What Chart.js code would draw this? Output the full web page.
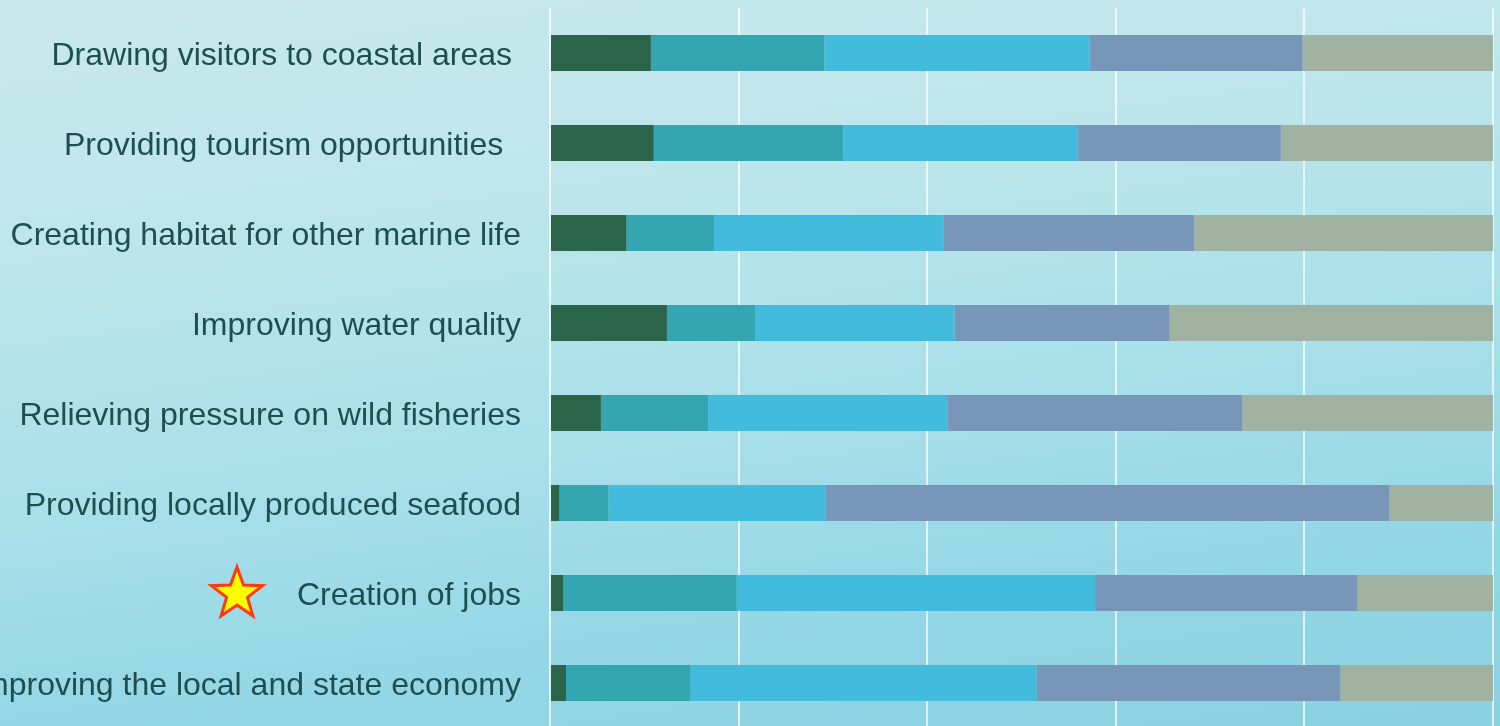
<!DOCTYPE html>
<html>
<head>
<meta charset="utf-8">
<script src="https://cdn.jsdelivr.net/npm/chart.js@4/dist/chart.umd.min.js"></script>
<style>
  html, body { margin: 0; padding: 0; overflow: hidden; width: 1500px; height: 726px; }
  body {
    background: linear-gradient(172deg, #c9e8ec 0%, #bfe6eb 25%, #a9e0ea 55%, #93d6e5 80%, #8ad1e1 100%);
  }
  #wrap { position: absolute; left: 0; top: 0; width: 1500px; height: 728px; }
</style>
</head>
<body>
<div id="wrap"><canvas id="c"></canvas></div>
<script>
const categories = [
  "Drawing visitors to coastal areas ",
  "Providing tourism opportunities  ",
  "Creating habitat for other marine life",
  "Improving water quality",
  "Relieving pressure on wild fisheries",
  "Providing locally produced seafood",
  "Creation of jobs",
  "Improving the local and state economy"
];
const series1 = [10.7, 11.0, 8.1, 12.4, 5.4, 1.0, 1.4, 1.7];
const series2 = [18.4, 20.1, 9.3, 9.4, 11.4, 5.2, 18.4, 13.2];
const series3 = [28.1, 24.9, 24.3, 21.1, 25.4, 23.0, 38.0, 36.7];
const series4 = [22.6, 21.5, 26.6, 22.8, 31.2, 59.8, 27.8, 32.2];
const series5 = [20.3, 22.6, 31.8, 34.3, 26.7, 11.0, 14.5, 16.3];
const xTicks = [0, 20, 40, 60, 80, 100];
const colors = ["#2a6449", "#34a6b1", "#42bbdd", "#7897b8", "#a0b3a3"];
const starCategory = "Creation of jobs";

const labelShiftPlugin = {
  id: 'labelShift',
  beforeDraw(chart) {
    const s = chart.scales.y;
    if (!s || s.__shifted || typeof s._computeLabelItems !== 'function') return;
    const orig = s._computeLabelItems.bind(s);
    s._computeLabelItems = function (ca) {
      const items = orig(ca);
      items.forEach(it => {
        if (it.options && it.options.translation) {
          it.options.translation = [it.options.translation[0], it.options.translation[1] + 3];
        }
      });
      return items;
    };
    s._labelItems = null;
    s.__shifted = true;
  }
};

const starPlugin = {
  id: 'starMark',
  afterDraw(chart) {
    const ctx = chart.ctx;
    const ys = chart.scales.y;
    const idx = categories.indexOf(starCategory);
    const cy = ys.getPixelForValue(idx) - 1;
    const cx = chart.chartArea.left - 313;
    const R = 27, r = 11;
    ctx.save();
    ctx.beginPath();
    for (let i = 0; i < 10; i++) {
      const ang = -Math.PI / 2 + i * Math.PI / 5;
      const rad = i % 2 === 0 ? R : r;
      const px = cx + rad * Math.cos(ang);
      const py = cy + 2 + rad * Math.sin(ang);
      if (i === 0) ctx.moveTo(px, py); else ctx.lineTo(px, py);
    }
    ctx.closePath();
    ctx.fillStyle = "#ffff00";
    ctx.fill();
    ctx.lineWidth = 3;
    ctx.strokeStyle = "#ff3a10";
    ctx.lineJoin = "miter";
    ctx.stroke();
    ctx.restore();
  }
};

const seriesList = [series1, series2, series3, series4, series5];
new Chart(document.getElementById('c'), {
  type: 'bar',
  data: {
    labels: categories,
    datasets: seriesList.map((s, i) => ({
      label: 'Series ' + (i + 1),
      data: s,
      backgroundColor: colors[i],
      borderWidth: 0,
      categoryPercentage: 0.4,
      barPercentage: 1.0
    }))
  },
  options: {
    indexAxis: 'y',
    responsive: true,
    maintainAspectRatio: false,
    animation: false,
    layout: { padding: { top: 8, right: 7, bottom: 0, left: 0 } },
    plugins: { legend: { display: false }, tooltip: { enabled: false } },
    scales: {
      x: {
        stacked: true,
        min: 0,
        max: 100,
        afterBuildTicks(scale) { scale.ticks = xTicks.map(v => ({ value: v })); },
        afterFit(scale) { scale.height = 0; scale.paddingLeft = 0; scale.paddingRight = 0; },
        ticks: { display: false },
        grid: { color: 'rgba(255,255,255,0.7)', lineWidth: 2, drawTicks: false },
        border: { display: false }
      },
      y: {
        stacked: true,
        afterFit(scale) { scale.width = 550; scale.paddingTop = 0; scale.paddingBottom = 0; },
        grid: { display: false, drawTicks: false },
        border: { display: false },
        ticks: {
          color: '#1d4f50',
          padding: 29,
          autoSkip: false,
          font: { family: '"Liberation Sans", Arial, sans-serif', size: 32 }
        }
      }
    }
  },
  plugins: [labelShiftPlugin, starPlugin]
});
</script>
</body>
</html>
